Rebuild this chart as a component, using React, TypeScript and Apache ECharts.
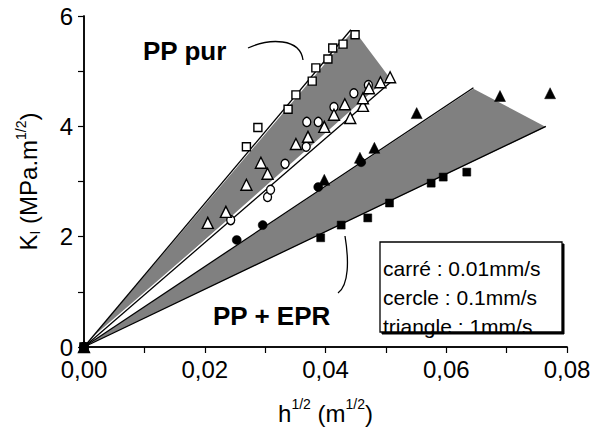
import React, { useEffect, useRef } from "react";
import * as echarts from "echarts";

// ---- data ----
const xMin = 0;
const xMax = 0.08;
const xInterval = 0.02;
const yMin = 0;
const yMax = 6;
const yInterval = 2;

// PP pur (open markers)
const pureSquares = [[0, 0], [0.0269, 3.63], [0.0288, 3.98], [0.0338, 4.31], [0.0351, 4.57], [0.0378, 4.82], [0.0384, 5.06], [0.0404, 5.22], [0.0412, 5.42], [0.0429, 5.49], [0.0449, 5.66]];
const pureCircles = [[0, 0], [0.0243, 2.3], [0.0304, 2.72], [0.0309, 2.85], [0.0333, 3.32], [0.0368, 3.63], [0.0369, 4.08], [0.0388, 4.08], [0.0414, 4.35], [0.0447, 4.6], [0.0471, 4.75]];
const pureTriangles = [[0, 0], [0.0205, 2.25], [0.0235, 2.45], [0.0269, 2.94], [0.0293, 3.34], [0.0304, 3.14], [0.0351, 3.68], [0.0371, 3.81], [0.0398, 3.99], [0.0414, 4.21], [0.0432, 4.4], [0.0441, 4.15], [0.0462, 4.37], [0.0462, 4.51], [0.0472, 4.69], [0.0491, 4.8], [0.0507, 4.89]];

// PP + EPR (filled markers)
const eprSquares = [[0, 0], [0.0392, 1.98], [0.0426, 2.21], [0.047, 2.34], [0.0506, 2.61], [0.0575, 2.97], [0.0595, 3.08], [0.0634, 3.17]];
const eprCircles = [[0, 0], [0.0253, 1.94], [0.0296, 2.21], [0.0388, 2.9], [0.0459, 3.35]];
const eprTriangles = [[0, 0], [0.0398, 3.03], [0.0457, 3.43], [0.0481, 3.61], [0.0551, 4.24], [0.0689, 4.55], [0.0772, 4.6]];

// fitted bounds and shaded envelopes
const pureUpperLine = [[0, 0], [0.0442, 5.75]];
const pureLowerLine = [[0, 0], [0.0513, 4.85]];
const purePolygon = [[0, 0], [0.0443, 5.7], [0.0453, 5.66], [0.0505, 4.9]];
const eprUpperLine = [[0, 0], [0.0645, 4.7]];
const eprLowerLine = [[0, 0], [0.0765, 4.0]];
const eprPolygon = [[0, 0], [0.0645, 4.68], [0.0765, 3.99]];

const legendLines = ["carré : 0.01mm/s", "cercle : 0.1mm/s", "triangle : 1mm/s"];

const FONT = "Liberation Sans, Arial, sans-serif";

function polySeries(poly: number[][]) {
  return {
    type: "custom",
    coordinateSystem: "cartesian2d",
    data: [poly[0]],
    silent: true,
    z: 1,
    renderItem: (params: any, api: any) => {
      const pts = poly.map((p) => api.coord(p));
      return { type: "polygon", shape: { points: pts }, style: { fill: "#808080" } };
    },
  };
}

function lineSeries(d: number[][], color: string, width: number, z: number) {
  return {
    type: "line",
    data: d,
    symbol: "none",
    silent: true,
    z,
    lineStyle: { color, width },
  };
}

function scatter(d: number[][], symbol: string, size: number | number[], filled: boolean) {
  return {
    type: "scatter",
    data: d,
    symbol,
    symbolSize: size,
    z: 5,
    itemStyle: {
      color: filled ? "#000" : "#fff",
      borderColor: "#000",
      borderWidth: filled ? 0.5 : 1.4,
      opacity: 1,
    },
  };
}

export default function App() {
  const ref = useRef<HTMLDivElement>(null);
  useEffect(() => {
    const chart = echarts.init(ref.current!, null, { renderer: "svg" });
    const axisLine = { show: true, lineStyle: { color: "#000", width: 1.5 } };
    const option: any = {
      animation: false,
      backgroundColor: "#fff",
      textStyle: { fontFamily: FONT },
      grid: { left: 84, right: 32, top: 16, bottom: 89 },
      xAxis: [
        {
          type: "value",
          min: xMin,
          max: xMax,
          interval: xInterval,
          axisLine,
          axisTick: { show: true, inside: false, length: 6, lineStyle: { color: "#000", width: 1.2 } },
          minorTick: { show: true, splitNumber: 2, length: 6, lineStyle: { color: "#000", width: 1.2 } },
          splitLine: { show: false },
          axisLabel: {
            fontSize: 24,
            color: "#000",
            fontFamily: FONT,
            margin: 10,
            formatter: (v: number) => v.toFixed(2).replace(".", ","),
          },
          name: "{b|h}{s|1/2}{b| (m}{s|1/2}{b|)}",
          nameLocation: "middle",
          nameGap: 50,
          nameTextStyle: {
            rich: {
              b: { fontSize: 24, fontFamily: FONT, color: "#000", lineHeight: 28, verticalAlign: "bottom" },
              s: { fontSize: 14, fontFamily: FONT, color: "#000", lineHeight: 28, verticalAlign: "top" },
            },
          },
        },
        {
          type: "value",
          position: "top",
          min: xMin,
          max: xMax,
          interval: xInterval,
          axisLine,
          axisTick: { show: true, inside: true, length: 4, lineStyle: { color: "#000", width: 1 } },
          minorTick: { show: true, splitNumber: 2, length: 4, lineStyle: { color: "#000", width: 1 } },
          splitLine: { show: false },
          axisLabel: { show: false },
        },
      ],
      yAxis: [
        {
          type: "value",
          min: yMin,
          max: yMax,
          interval: yInterval,
          axisLine,
          axisTick: { show: true, inside: false, length: 6, lineStyle: { color: "#000", width: 1.2 } },
          minorTick: { show: true, splitNumber: 2, length: 6, lineStyle: { color: "#000", width: 1.2 } },
          splitLine: { show: false },
          axisLabel: { fontSize: 24, color: "#000", fontFamily: FONT, margin: 11 },
          name: "{b|K}{i|I}{b| (MPa.m}{s|1/2}{b|)}",
          nameLocation: "middle",
          nameRotate: 90,
          nameGap: 42,
          nameTextStyle: {
            rich: {
              b: { fontSize: 24, fontFamily: FONT, color: "#000", lineHeight: 28, verticalAlign: "middle" },
              s: { fontSize: 14, fontFamily: FONT, color: "#000", lineHeight: 28, verticalAlign: "top" },
              i: { fontSize: 14, fontFamily: FONT, color: "#000", lineHeight: 28, verticalAlign: "bottom" },
            },
          },
        },
        {
          type: "value",
          position: "right",
          min: yMin,
          max: yMax,
          interval: yInterval,
          axisLine,
          axisTick: { show: true, inside: true, length: 4, lineStyle: { color: "#000", width: 1 } },
          minorTick: { show: true, splitNumber: 2, length: 4, lineStyle: { color: "#000", width: 1 } },
          splitLine: { show: false },
          axisLabel: { show: false },
        },
      ],
      series: [
        polySeries(purePolygon),
        polySeries(eprPolygon),
        lineSeries(pureLowerLine, "#fff", 4, 2),
        lineSeries(pureUpperLine, "#000", 1.3, 3),
        lineSeries(pureLowerLine, "#000", 1.3, 3),
        lineSeries(eprUpperLine, "#000", 1.3, 3),
        lineSeries(eprLowerLine, "#000", 1.3, 3),
        scatter(pureSquares, "rect", 8, false),
        scatter(pureCircles, "circle", [8, 9], false),
        scatter(pureTriangles, "triangle", 11, false),
        scatter(eprSquares, "rect", 8, true),
        scatter(eprCircles, "circle", 9, true),
        scatter(eprTriangles, "triangle", 11, true),
      ],
      graphic: [
        {
          type: "text",
          left: 143,
          top: 38,
          style: { text: "PP pur", font: `bold 26px ${FONT}`, fill: "#000" },
        },
        {
          type: "text",
          left: 213,
          top: 303,
          style: { text: "PP + EPR", font: `bold 26px ${FONT}`, fill: "#000" },
        },
        {
          type: "bezierCurve",
          shape: { x1: 248, y1: 48, x2: 303, y2: 60, cpx1: 270, cpy1: 38, cpx2: 300, cpy2: 38 },
          style: { stroke: "#000", lineWidth: 1.3, fill: null },
        },
        {
          type: "bezierCurve",
          shape: { x1: 345, y1: 236, x2: 338, y2: 293, cpx1: 349, cpy1: 260, cpx2: 349, cpy2: 285 },
          style: { stroke: "#000", lineWidth: 1.3, fill: null },
        },
        {
          type: "rect",
          shape: { x: 382, y: 244, width: 182, height: 90 },
          style: { fill: "#000", stroke: "#000", lineWidth: 1 },
          z: 9,
        },
        {
          type: "rect",
          shape: { x: 380, y: 242, width: 182, height: 90 },
          style: { fill: "#fff", stroke: "#000", lineWidth: 1.3 },
          z: 10,
        },
        ...legendLines.map((t, i) => ({
          type: "text",
          x: 383,
          y: 268 + i * 29,
          z: 11,
          style: { text: t, font: `21px ${FONT}`, fill: "#000", textVerticalAlign: "middle" },
        })),
      ],
    };
    chart.setOption(option);
    return () => chart.dispose();
  }, []);
  return <div ref={ref} style={{ position: "fixed", left: 0, top: 0, width: 599, height: 436 }} />;
}
